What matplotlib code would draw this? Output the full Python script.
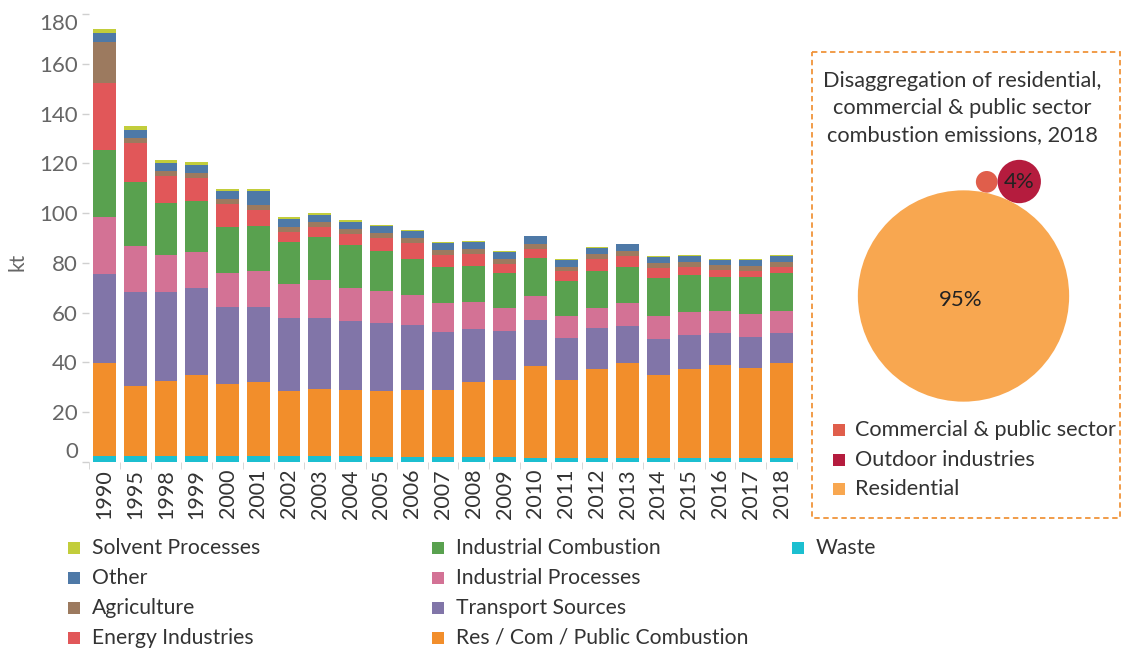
import numpy as np
import matplotlib
matplotlib.use("Agg")
import matplotlib.pyplot as plt
from matplotlib.patches import Rectangle, Circle

plt.rcParams['font.family'] = ['Lato', 'DejaVu Sans']

# ---- data ----
years = ['1990', '1995', '1998', '1999', '2000', '2001', '2002', '2003', '2004', '2005', '2006',
         '2007', '2008', '2009', '2010', '2011', '2012', '2013', '2014', '2015', '2016', '2017', '2018']

waste = [2.5, 2.5, 2.5, 2.5, 2.5, 2.5, 2.5, 2.5, 2.5, 2.0, 2.0, 2.0, 2.0, 2.0, 1.7, 1.7, 1.7, 1.7, 1.7, 1.7, 1.7, 1.7, 1.7]
res_com = [37.3, 28.2, 30.0, 32.5, 28.8, 29.6, 26.0, 26.8, 26.4, 26.5, 26.9, 26.9, 30.1, 30.9, 37.0, 31.2, 35.7, 38.1, 33.3, 35.7, 37.3, 36.2, 38.1]
transport = [35.9, 37.6, 35.8, 34.9, 31.0, 30.2, 29.5, 28.7, 27.7, 27.3, 26.1, 23.3, 21.3, 19.7, 18.5, 17.0, 16.6, 15.0, 14.4, 13.6, 12.8, 12.3, 12.0]
ind_proc = [22.7, 18.6, 14.9, 14.5, 13.6, 14.4, 13.6, 15.2, 13.4, 12.9, 12.1, 11.7, 11.0, 9.4, 9.6, 8.9, 8.0, 9.1, 9.4, 9.4, 8.9, 9.4, 8.9]
ind_comb = [26.9, 25.7, 20.9, 20.5, 18.4, 18.1, 16.9, 17.2, 17.2, 16.1, 14.3, 14.4, 14.5, 13.9, 15.3, 13.9, 14.7, 14.4, 15.2, 14.7, 13.6, 14.7, 15.2]
energy = [26.8, 15.4, 10.9, 9.3, 9.4, 6.6, 3.9, 3.9, 4.5, 5.3, 6.6, 4.9, 4.8, 3.8, 3.5, 4.0, 4.9, 4.6, 4.1, 3.2, 3.0, 2.4, 2.4]
agriculture = [16.6, 2.2, 1.9, 1.9, 1.9, 1.9, 2.0, 2.1, 1.9, 1.9, 2.0, 2.1, 1.9, 1.9, 2.1, 1.6, 2.1, 1.9, 1.9, 2.2, 1.8, 2.2, 2.2]
other = [3.7, 3.3, 3.2, 3.2, 3.2, 5.6, 3.2, 2.8, 2.8, 2.9, 2.8, 2.7, 2.9, 2.8, 3.0, 3.0, 2.4, 2.7, 2.4, 2.4, 2.2, 2.4, 2.4]
solvent = [1.6, 1.5, 1.2, 1.2, 0.8, 0.8, 0.8, 0.8, 0.8, 0.3, 0.4, 0.4, 0.3, 0.4, 0.2, 0.3, 0.3, 0.2, 0.2, 0.3, 0.3, 0.3, 0.3]

# stacking order bottom -> top
series = [
    ('Waste', waste, '#1CBFD0'),
    ('Res / Com / Public Combustion', res_com, '#F28E2B'),
    ('Transport Sources', transport, '#8175A8'),
    ('Industrial Processes', ind_proc, '#D37295'),
    ('Industrial Combustion', ind_comb, '#59A14F'),
    ('Energy Industries', energy, '#E15759'),
    ('Agriculture', agriculture, '#9C7A5F'),
    ('Other', other, '#4E79A7'),
    ('Solvent Processes', solvent, '#C2CD3B'),
]
legend_cols = [
    ['Solvent Processes', 'Other', 'Agriculture', 'Energy Industries'],
    ['Industrial Combustion', 'Industrial Processes', 'Transport Sources', 'Res / Com / Public Combustion'],
    ['Waste'],
]

bubble_labels = ['Commercial & public sector', 'Outdoor industries', 'Residential']
bubble_share = [1, 4, 95]
bubble_colors = ['#E05E4B', '#B51C3E', '#F8A750']

# ---- figure ----
W, H = 1122, 649
fig = plt.figure(figsize=(W / 100, H / 100), dpi=100)

ov = fig.add_axes([0, 0, 1, 1])
ov.set_xlim(0, W)
ov.set_ylim(H, 0)
ov.axis('off')

ax = fig.add_axes([89 / W, (H - 462) / H, (797 - 89) / W, (462 - 14) / H])
x = np.arange(len(years))
bottom = np.zeros(len(years))
for name, vals, col in series:
    ax.bar(x, vals, width=0.74, bottom=bottom, color=col, edgecolor='none')
    bottom += np.array(vals)

ax.set_xlim(-0.5, len(years) - 0.5)
ax.set_ylim(0, 180)
for s in ax.spines.values():
    s.set_visible(False)
ax.set_yticks(range(0, 181, 20))
ax.tick_params(axis='y', colors='#D0D0D0', length=5, width=1, labelcolor='#666666', labelsize=16, pad=3)
# end labels are kept inside the axis range, like the original
for lab in ax.get_yticklabels():
    if lab.get_text() == '0':
        lab.set_va('bottom')
    elif lab.get_text() == '180':
        lab.set_va('top')
ax.set_xticks(x)
ax.set_xticklabels(years, rotation=90, fontsize=15.5, color='#333333')
ax.tick_params(axis='x', length=0, pad=5)
ax.set_xticks(np.arange(-0.5, len(years), 1), minor=True)
ax.tick_params(axis='x', which='minor', length=5, color='#D0D0D0')
ov.text(18, 262, 'kt', rotation=90, fontsize=15, color='#666666', ha='center', va='center')

# bottom legend
colors = {n: c for n, _, c in series}
col_x = [68, 432, 792]
for cx, names in zip(col_x, legend_cols):
    for i, n in enumerate(names):
        y = 548 + 30 * i
        ov.add_patch(Rectangle((cx, y - 6), 12, 12, color=colors[n], lw=0))
        ov.text(cx + 24, y, n, fontsize=15.2, color='#333333', va='center', ha='left')

# right panel
ov.add_patch(Rectangle((812, 52), 308, 466, fill=False, ec='#F0943A', lw=1.3, ls=(0, (3, 2))))
ov.text(962, 108, 'Disaggregation of residential,\ncommercial & public sector\ncombustion emissions, 2018',
        ha='center', va='center', fontsize=15.7, color='#333333', linespacing=1.45)

scale = 10.84
radii = [scale * np.sqrt(v) for v in bubble_share]
rc, ro, rr = radii
big_c = np.array([963.5, 296.0])
ang_o = np.arctan2(-114.0, 55.5)
o_c = big_c + (rr + ro) * np.array([np.cos(ang_o), np.sin(ang_o)])
a, b, c = rr + rc, rr + ro, rc + ro
alpha = np.arccos((a * a + b * b - c * c) / (2 * a * b))
ang_c = ang_o - alpha
c_c = big_c + (rr + rc) * np.array([np.cos(ang_c), np.sin(ang_c)])
for cen, r, col in zip([c_c, o_c, big_c], radii, bubble_colors):
    ov.add_patch(Circle(cen, r, color=col, lw=0))
ov.text(big_c[0] - 3, big_c[1] + 4, f'{bubble_share[2]}%', ha='center', va='center', fontsize=16, color='#222222')
ov.text(o_c[0], o_c[1], f'{bubble_share[1]}%', ha='center', va='center', fontsize=16, color='#222222')

for i, (n, col) in enumerate(zip(bubble_labels, bubble_colors)):
    y = 430 + 29.5 * i
    ov.add_patch(Rectangle((833, y - 6), 12, 12, color=col, lw=0))
    ov.text(855, y, n, fontsize=15.6, color='#333333', va='center', ha='left')

fig.savefig('out.png', dpi=100)
